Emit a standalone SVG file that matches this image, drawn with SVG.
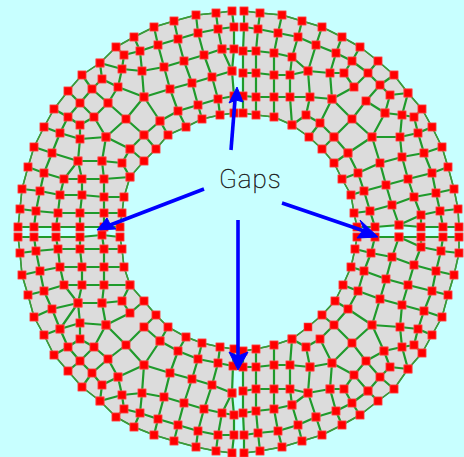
<svg xmlns="http://www.w3.org/2000/svg" width="464" height="457" viewBox="0 0 464 457">
<style>
#bg{fill:#c8ffff}
.sector{fill:#dcdcdc;stroke:none}
#wrap polyline{fill:none}
#wrap{stroke:#1f9a2b;stroke-width:2.2;stroke-linejoin:round}
#wrap .b{stroke-width:1.5;stroke:#3a9a3a}
#nodes{stroke:none}
.arrow{stroke:#0000ff;stroke-width:3.6;fill:none}
.head{fill:#0000ff;stroke:#0000ff;stroke-width:1}
text{font-family:Roboto,"Liberation Sans",Arial,sans-serif;font-weight:100;font-size:26px;letter-spacing:1px;fill:#000;stroke:#222;stroke-width:.35}
</style>
<defs>
<marker id="sq" markerUnits="userSpaceOnUse" markerWidth="9" markerHeight="9" refX="4.5" refY="4.5" overflow="visible"><rect x=".5" y=".5" width="8" height="8" fill="#ff0000" stroke="#ff5050" stroke-width=".6"/></marker>
</defs>
<rect id="bg" width="464" height="457"/>
<g id="fill">
<polygon class="sector" points="18,227 20,209 22,189 28,167 34,147 44,127 54,109 68,91 82,75 100,63 116,47 134,37 154,27 174,21 196,15 216,13 232,11 234,27 234,49 232,71 234,96 234,113 220,115 202,119 186,127 168,135 156,149 144,161 130,177 124,197 122,213 120,227"/>
<polygon class="sector" points="244,11 260,13 282,15 302,21 322,27 342,37 360,47 378,61 394,75 408,93 422,109 432,127 442,147 448,167 454,189 458,209 459,227 357,227 354,213 351,195 342,179 334,163 322,149 309,137 292,125 274,117 256,115 243,113"/>
<polygon class="sector" points="18,237 20,253 22,275 28,295 34,317 44,335 54,355 68,371 82,387 100,401 116,417 134,427 154,435 174,441 196,447 216,451 232,453 234,435 234,415 232,393 233,366 234,349 220,347 202,343 186,337 168,327 156,315 144,301 130,285 124,267 122,249 120,237"/>
<polygon class="sector" points="459,237 459,253 454,275 448,295 442,317 432,335 422,353 408,369 394,389 378,401 360,415 342,425 322,435 302,441 282,447 260,451 244,453 244,435 243,413 243,391 243,367 243,351 256,349 274,345 292,339 308,327 322,315 335,301 343,285 351,267 355,249 357,237"/>
</g>
<g id="wrap">
<g id="mesh">
<g id="connectors-top-left">
<polyline class="b" points="18,227 20,209 22,189 28,167 34,147 44,127 54,109 68,91 82,75 100,63 116,47 134,37 154,27 174,21 196,15 216,13 232,11"/>
<polyline class="b" points="120,227 122,213 124,197 130,177 144,161 156,149 168,135 186,127 202,119 220,115 234,113"/>
<polyline points="232,11 234,27 234,49 232,71 234,96 234,113"/>
<polyline points="18,227 34,227 56,227 80,227 104,227 120,227"/>
<polyline points="20,209 36,211 58,213 80,213 104,213 122,213"/>
<polyline points="22,189 40,191 60,195 82,195 104,197 124,197"/>
<polyline points="28,167 44,173 64,179 82,179 104,179 130,177"/>
<polyline points="34,147 52,153 78,161 102,161 122,163 130,177"/>
<polyline points="44,127 60,133 80,139 106,137 130,149 144,161"/>
<polyline points="54,109 68,117 80,125 94,117 108,103"/>
<polyline points="68,91 80,103 94,117 106,137"/>
<polyline points="82,75 92,89 108,103 126,119 144,135 156,149"/>
<polyline points="100,63 102,79 118,87 144,97 160,121 168,135"/>
<polyline points="100,63 122,69 142,71 164,67 184,61 204,55 222,49 232,71"/>
<polyline points="222,49 234,49"/>
<polyline points="116,47 124,55 140,51 158,45 178,39 198,33 218,29 234,27"/>
<polyline points="134,37 140,51 142,71 144,97 126,119 106,137"/>
<polyline points="154,27 158,45 164,67 170,89 178,111 186,127"/>
<polyline points="174,21 178,39 184,61 192,83 198,105 202,119"/>
<polyline points="196,15 198,33 204,55 212,77 218,99 220,115"/>
<polyline points="216,13 218,29 222,49"/>
<polyline points="124,55 122,69 118,87 108,103"/>
<polyline points="144,97 170,89 192,83 212,77 232,71"/>
<polyline points="160,121 178,111 198,105 218,99 234,96"/>
<polyline points="144,135 160,121"/>
<polyline points="130,149 144,135"/>
<polyline points="130,149 122,163"/>
<polyline points="102,161 106,137"/>
<polyline points="80,125 80,139 78,161 64,179 60,195 58,213 56,227"/>
<polyline points="78,161 82,179 82,195 80,213 80,227"/>
<polyline points="102,161 104,179 104,197 104,213 104,227"/>
<polyline points="34,227 36,211 40,191 44,173 52,153 60,133 68,117 80,103 92,89 102,79"/>
</g>
<g id="connectors-top-right">
<polyline class="b" points="244,11 260,13 282,15 302,21 322,27 342,37 360,47 378,61 394,75 408,93 422,109 432,127 442,147 448,167 454,189 458,209 459,227"/>
<polyline class="b" points="243,113 256,115 274,117 292,125 309,137 322,149 334,163 342,179 351,195 354,213 357,227"/>
<polyline points="244,11 244,27 243,51 243,73 243,96 243,113"/>
<polyline points="244,27 258,29 278,33 298,37 316,45 336,53 352,61 368,73 380,85 390,95"/>
<polyline points="260,13 258,29 256,51 256,73 256,97 256,115"/>
<polyline points="282,15 278,33 274,53 274,75 274,97 274,117"/>
<polyline points="302,21 298,37 292,57 290,75 290,97 292,125"/>
<polyline points="322,27 316,45 308,71 310,97 306,115"/>
<polyline points="342,37 336,53 330,73 332,99 320,123 334,137"/>
<polyline points="360,47 352,61 344,73 354,87 332,99"/>
<polyline points="378,61 368,73 354,87"/>
<polyline points="394,75 380,85 366,101 352,119 334,137 322,149"/>
<polyline points="408,93 390,95 385,113 372,137 348,153 334,163"/>
<polyline points="408,93 402,115 400,137 402,157 408,179 414,197 421,215 421,227"/>
<polyline points="422,109 414,117 418,133 424,153 432,173 436,193 440,211 443,227"/>
<polyline points="432,127 418,133 400,137 372,137"/>
<polyline points="442,147 424,153 402,157 380,163 358,173 342,179"/>
<polyline points="448,167 432,173 408,179 386,185 364,191 351,195"/>
<polyline points="454,189 436,193 414,197 392,205 370,211 354,213"/>
<polyline points="458,209 440,211 421,215 399,225 375,227 357,227"/>
<polyline points="399,225 421,227 443,227 459,227"/>
<polyline points="385,113 402,115 414,117"/>
<polyline points="366,101 385,113"/>
<polyline points="332,99 352,119 372,137 380,163 386,185 392,205 399,225"/>
<polyline points="348,153 358,173 364,191 370,211 375,227"/>
<polyline points="334,137 348,153"/>
<polyline points="292,125 306,115 320,123 309,137"/>
<polyline points="243,51 256,51 274,53 292,57 308,71 330,73 344,73"/>
<polyline points="243,73 256,73 274,75 290,75 308,71"/>
<polyline points="243,96 256,97 274,97 290,97 310,97 332,99"/>
</g>
<g id="connectors-bottom-left">
<polyline class="b" points="18,237 20,253 22,275 28,295 34,317 44,335 54,355 68,371 82,387 100,401 116,417 134,427 154,435 174,441 196,447 216,451 232,453"/>
<polyline class="b" points="234,349 220,347 202,343 186,337 168,327 156,315 144,301 130,285 124,267 122,249 120,237"/>
<polyline points="234,349 233,366 232,393 234,415 234,435 232,453"/>
<polyline points="18,237 34,237 56,237 80,237 102,235 120,237"/>
<polyline points="20,253 36,251 58,249 80,249 104,249 122,249"/>
<polyline points="22,275 40,271 60,267 82,267 104,267 124,267"/>
<polyline points="28,295 44,291 64,285 82,285 104,285 130,285"/>
<polyline points="34,317 52,309 78,303 102,303 122,301 130,285"/>
<polyline points="44,335 60,329 80,323 106,325 130,313 144,301"/>
<polyline points="54,355 68,347 80,339 94,347 108,359 118,377"/>
<polyline points="68,371 80,361 94,347 106,325"/>
<polyline points="82,387 92,373 108,359 126,345 144,327 156,315"/>
<polyline points="100,401 102,385 118,377 144,365 160,341 168,327"/>
<polyline points="100,401 122,395 142,393 164,397 184,403 204,409 222,413 234,415"/>
<polyline points="116,417 124,409 140,413 158,419 178,425 198,431 218,435 234,435"/>
<polyline points="124,409 122,395 118,377"/>
<polyline points="134,427 140,413 142,393 144,365 126,345 106,325"/>
<polyline points="154,435 158,419 164,397 170,373 178,351 186,337"/>
<polyline points="174,441 178,425 184,403 192,379 198,359 202,343"/>
<polyline points="196,447 198,431 204,409 212,385 218,363 220,347"/>
<polyline points="216,451 218,435 222,413 232,393"/>
<polyline points="34,237 36,251 40,271 44,291 52,309 60,329 68,347 80,361 92,373 102,385"/>
<polyline points="144,365 170,373 192,379 212,385 232,393"/>
<polyline points="160,341 178,351 198,359 218,363 233,366"/>
<polyline points="144,327 160,341"/>
<polyline points="130,313 122,301"/>
<polyline points="102,303 106,325"/>
<polyline points="60,329 78,303 80,323 80,339"/>
<polyline points="78,303 64,285 60,267 58,249 56,237"/>
<polyline points="78,303 82,285 82,267 80,249 80,237"/>
<polyline points="102,303 104,285 104,267 104,249 102,235"/>
</g>
<g id="connectors-bottom-right">
<polyline class="b" points="459,237 459,253 454,275 448,295 442,317 432,335 422,353 408,369 394,389 378,401 360,415 342,425 322,435 302,441 282,447 260,451 244,453"/>
<polyline class="b" points="357,237 355,249 351,267 343,285 335,301 322,315 308,327 292,339 274,345 256,349 243,351"/>
<polyline points="357,237 375,237 399,237 421,237 443,237 459,237"/>
<polyline points="375,237 371,253 364,271 358,291 348,309 334,325 320,339 306,347 292,339"/>
<polyline points="399,237 392,257 386,279 380,299 372,325 352,343 332,363 310,367 306,347"/>
<polyline points="399,237 421,247 441,251 459,253"/>
<polyline points="421,237 421,247 414,265 408,285 402,305 400,327 402,347 408,369"/>
<polyline points="443,237 441,251 436,271 432,291 424,311 418,329 414,345 422,353"/>
<polyline points="355,249 371,253 392,257 414,265 436,271 454,275"/>
<polyline points="351,267 364,271 386,279 408,285 432,291 448,295"/>
<polyline points="343,285 358,291 380,299 402,305 424,311 442,317"/>
<polyline points="335,301 348,309 372,325 400,327 418,329 432,335"/>
<polyline points="322,315 334,325 352,343 366,361 380,377 394,389"/>
<polyline points="372,325 384,351 366,361 354,375 344,389 330,389 332,363 320,339"/>
<polyline points="384,351 402,347 414,345"/>
<polyline points="384,351 390,367 408,369"/>
<polyline points="390,367 380,377 368,391"/>
<polyline points="332,363 354,375 368,391 378,401"/>
<polyline points="344,389 352,403 360,415"/>
<polyline points="368,391 352,403 336,411 342,425"/>
<polyline points="330,389 336,411 316,417 322,435"/>
<polyline points="310,367 308,393 330,389"/>
<polyline points="308,393 316,417"/>
<polyline points="243,367 256,367 274,365 290,365 310,367"/>
<polyline points="292,339 290,365 290,389 292,405 298,425 302,441"/>
<polyline points="274,345 274,365 274,389 274,409 278,431 282,447"/>
<polyline points="256,349 256,367 256,389 256,411 258,433 260,451"/>
<polyline points="243,351 243,367 243,391 243,413 244,435 244,453"/>
<polyline points="243,391 256,389 274,389 290,389 308,393 292,405"/>
<polyline points="243,413 256,411 274,409 292,405"/>
<polyline points="244,435 258,433 278,431 298,425 316,417"/>
</g>
</g>
</g>
<use id="nodes" href="#mesh" marker-start="url(#sq)" marker-mid="url(#sq)" marker-end="url(#sq)"/>
<g id="arrows">
<polyline class="arrow" points="204,189 105,227"/>
<polygon class="head" points="97,230 107,218 110,224 116,229"/>
<polyline class="arrow" points="231,150 235,100"/>
<polygon class="head" points="237,87 243,102 236,100 229,103"/>
<polyline class="arrow" points="282,203 370,233"/>
<polygon class="head" points="378,237 360,220 364,229 357,238"/>
<polyline class="arrow" points="238,220 238,360"/>
<polygon class="head" points="238,370 229,352 238,356 248,352"/>
</g>
<text id="label" x="219" y="188">Gaps</text>
</svg>
